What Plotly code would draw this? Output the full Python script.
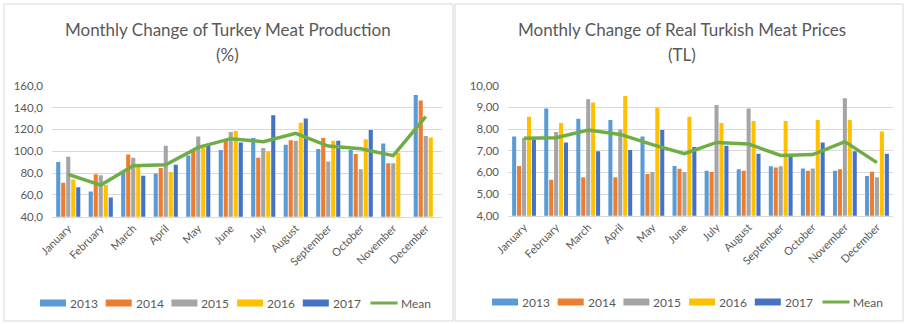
import plotly.graph_objects as go

# ---- data -------------------------------------------------------------
months = ["January", "February", "March", "April", "May", "June", "July",
          "August", "September", "October", "November", "December"]
years = ["2013", "2014", "2015", "2016", "2017"]

# Turkey meat production, monthly change (%)
prod_2013 = [90, 63, 80, 79.5, 96, 101, 112, 106, 102, 101, 107, 151.5]
prod_2014 = [71, 79, 97, 84.5, 100.5, 111, 94, 110, 112, 97.5, 89, 146.5]
prod_2015 = [95, 78, 94, 105, 113.5, 117.5, 103, 109.5, 90.5, 83.5, 89, 114]
prod_2016 = [74, 69, 86, 81, 103.5, 118.5, 100, 126, 109.5, 111, 98.5, 112.5]
prod_2017 = [67, 57.5, 77.5, 87.5, 105, 108, 133, 130, 109.5, 119.5, None, None]
prod_mean = [78.8, 69.0, 86.7, 87.6, 103.5, 111.5, 108.7, 116.3, 104.7, 102.3, 95.9, 131.6]

# Real Turkish meat prices (TL)
price_2013 = [7.65, 8.95, 8.48, 8.42, 7.65, 6.29, 6.08, 6.14, 6.28, 6.18, 6.08, 5.83]
price_2014 = [6.29, 5.66, 5.77, 5.77, 5.92, 6.17, 6.02, 6.08, 6.23, 6.08, 6.14, 6.03]
price_2015 = [7.60, 7.86, 9.37, 7.98, 6.02, 6.02, 9.11, 8.95, 6.28, 6.18, 9.42, 5.77]
price_2016 = [8.57, 8.28, 9.22, 9.52, 8.98, 8.57, 8.28, 8.37, 8.37, 8.42, 8.42, 7.89]
price_2017 = [7.52, 7.38, 6.97, 7.03, 7.95, 7.17, 7.23, 6.86, 6.75, 7.38, 6.97, 6.86]
price_mean = [7.57, 7.60, 7.95, 7.75, 7.28, 6.86, 7.38, 7.31, 6.78, 6.82, 7.42, 6.45]

# ---- styling ----------------------------------------------------------
W, H = 905, 324
colors = ["#5B9BD5", "#ED7D31", "#A5A5A5", "#FFC000", "#4472C4"]
mean_color = "#70AD47"
text_color = "#595959"
grid_color = "#D9D9D9"
FONT = "Lato"


def px(x):
    return x / W


def py(y):
    return 1 - y / H


fig = go.Figure()

panels = [
    dict(series=[prod_2013, prod_2014, prod_2015, prod_2016, prod_2017],
         mean=prod_mean, xa="x", ya="y"),
    dict(series=[price_2013, price_2014, price_2015, price_2016, price_2017],
         mean=price_mean, xa="x2", ya="y2"),
]

for p in panels:
    for name, vals, col in zip(years, p["series"], colors):
        fig.add_trace(go.Bar(x=months, y=vals, name=name, marker_color=col,
                             marker_line_width=0, xaxis=p["xa"], yaxis=p["ya"],
                             showlegend=False))
    fig.add_trace(go.Scatter(x=months, y=p["mean"], name="Mean", mode="lines",
                             line=dict(color=mean_color, width=3.5),
                             xaxis=p["xa"], yaxis=p["ya"], showlegend=False))

axis_common = dict(showgrid=False, showline=True, linecolor=grid_color,
                   linewidth=1, ticks="", tickangle=-45,
                   tickfont=dict(family=FONT, size=11, color=text_color),
                   automargin=False, fixedrange=True)
yaxis_common = dict(showgrid=True, gridcolor=grid_color, gridwidth=1,
                    zeroline=False, showline=False, ticks="",
                    ticklabelstandoff=8,
                    tickfont=dict(family=FONT, size=11.5, color=text_color),
                    automargin=False, fixedrange=True)

fig.update_layout(
    width=W, height=H,
    margin=dict(l=0, r=0, t=0, b=0),
    paper_bgcolor="white", plot_bgcolor="white",
    barmode="group", bargap=0.23, bargroupgap=0.18,
    separators=",.",
    showlegend=False,
    xaxis=dict(domain=[px(52), px(442)], anchor="y", **axis_common),
    yaxis=dict(domain=[py(216.7), py(85.7)], anchor="x", range=[40, 160],
               dtick=20, tick0=40, tickformat=".1f", **yaxis_common),
    xaxis2=dict(domain=[px(508), px(893)], anchor="y2", **axis_common),
    yaxis2=dict(domain=[py(215.7), py(85.7)], anchor="x2", range=[4, 10],
                dtick=1, tick0=4, tickformat=".2f", **yaxis_common),
)

shapes = []
annotations = []

# panel frames
for x0, x1 in [(4, 453), (455, 903)]:
    shapes.append(dict(type="rect", xref="paper", yref="paper",
                       x0=px(x0), x1=px(x1), y0=py(321), y1=py(4),
                       line=dict(color=grid_color, width=1), layer="below"))

# titles
titles = [("Monthly Change of Turkey Meat Production", "(%)", 228),
          ("Monthly Change of Real Turkish Meat Prices", "(TL)", 682)]
for line1, line2, cx in titles:
    annotations.append(dict(text=line1, x=px(cx), y=py(30), xref="paper",
                            yref="paper", showarrow=False, xanchor="center",
                            yanchor="middle",
                            font=dict(family=FONT, size=17, color=text_color)))
    annotations.append(dict(text=line2, x=px(cx), y=py(55), xref="paper",
                            yref="paper", showarrow=False, xanchor="center",
                            yanchor="middle",
                            font=dict(family=FONT, size=17, color=text_color)))

# legends (one per panel)
legend_specs = [(40, 303), (492, 302)]
for lx, ly in legend_specs:
    step = 65.7
    for i, (name, col) in enumerate(zip(years, colors)):
        x0 = lx + i * step
        shapes.append(dict(type="rect", xref="paper", yref="paper",
                           x0=px(x0), x1=px(x0 + 26), y0=py(ly + 3.5),
                           y1=py(ly - 3.5), line=dict(width=0), fillcolor=col))
        annotations.append(dict(text=name, x=px(x0 + 28), y=py(ly),
                                xref="paper", yref="paper", showarrow=False,
                                xanchor="left", yanchor="middle",
                                font=dict(family=FONT, size=12, color=text_color)))
    x0 = lx + 5 * step + 2
    shapes.append(dict(type="line", xref="paper", yref="paper",
                       x0=px(x0), x1=px(x0 + 27), y0=py(ly), y1=py(ly),
                       line=dict(color=mean_color, width=3)))
    annotations.append(dict(text="Mean", x=px(x0 + 28), y=py(ly),
                            xref="paper", yref="paper", showarrow=False,
                            xanchor="left", yanchor="middle",
                            font=dict(family=FONT, size=12, color=text_color)))

fig.update_layout(shapes=shapes, annotations=annotations)

fig.write_html("out.html")
